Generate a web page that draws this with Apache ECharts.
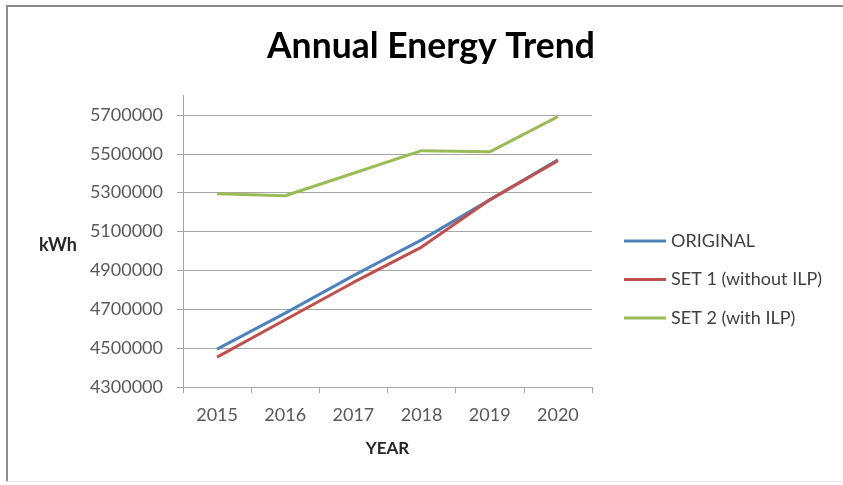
<!DOCTYPE html>
<html>
<head>
<meta charset="utf-8">
<script src="https://cdn.jsdelivr.net/npm/echarts@6/dist/echarts.min.js"></script>
<style>
  html, body { margin: 0; padding: 0; background: #ffffff; overflow: hidden; }
  #chart { width: 843px; height: 485px; }
</style>
</head>
<body>
<div id="chart"></div>
<script>
// Years on the category axis
const years = ['2015', '2016', '2017', '2018', '2019', '2020'];

// Annual energy use, kWh
const original = [4495000, 4680000, 4873000, 5057000, 5263000, 5469000];
const set1 = [4454000, 4646000, 4838000, 5020000, 5263000, 5464000];
const set2 = [5294000, 5284000, 5400000, 5516000, 5510000, 5691000];

// Labelled values on the kWh axis
const yTicks = [4300000, 4500000, 4700000, 4900000, 5100000, 5300000, 5500000, 5700000];

const FONT = 'Lato, "Open Sans", sans-serif';
const AXIS_GREY = '#a6a6a6';
const FRAME_GREY = '#8c8c8c';

const chart = echarts.init(document.getElementById('chart'), null, { renderer: 'canvas' });

chart.setOption({
  animation: false,
  backgroundColor: '#ffffff',
  // page frame: top and left edges, faint bottom edge
  graphic: [
    { type: 'line', silent: true, shape: { x1: 6, y1: 6, x2: 843, y2: 6 }, style: { stroke: FRAME_GREY, lineWidth: 2 } },
    { type: 'line', silent: true, shape: { x1: 7, y1: 5, x2: 7, y2: 481 }, style: { stroke: FRAME_GREY, lineWidth: 2 } },
    { type: 'line', silent: true, shape: { x1: 6, y1: 481.5, x2: 843, y2: 481.5 }, style: { stroke: '#e6e6e6', lineWidth: 1 } }
  ],
  title: {
    text: 'Annual Energy Trend',
    left: 267,
    top: 29,
    padding: 0,
    textStyle: { fontFamily: FONT, fontWeight: 'bold', fontSize: 35.5, color: '#000000' }
  },
  legend: {
    orient: 'vertical',
    left: 624,
    top: 231,
    padding: 0,
    icon: 'rect',
    itemWidth: 42,
    itemHeight: 3,
    itemGap: 18.5,
    textStyle: { fontFamily: FONT, fontSize: 18, color: '#404040', lineHeight: 20 },
    data: ['ORIGINAL', 'SET 1 (without ILP)', 'SET 2 (with ILP)']
  },
  grid: { left: 183, right: 251, top: 95.5, bottom: 98 },
  xAxis: {
    type: 'category',
    data: years,
    boundaryGap: true,
    name: 'YEAR',
    nameLocation: 'middle',
    nameGap: 53,
    nameTextStyle: { fontFamily: FONT, fontWeight: 'bold', fontSize: 17, color: '#262626' },
    axisLine: { lineStyle: { color: AXIS_GREY, width: 1 } },
    axisTick: { show: true, length: 6, interval: 0, lineStyle: { color: AXIS_GREY } },
    axisLabel: { margin: 19, fontFamily: FONT, fontSize: 18, color: '#595959', interval: 0 },
    splitLine: { show: false }
  },
  yAxis: {
    type: 'value',
    min: 4300000,
    max: 5800000,
    name: 'kWh',
    nameLocation: 'middle',
    nameRotate: 0,
    nameGap: 106,
    nameTextStyle: {
      fontFamily: FONT, fontWeight: 'bold', fontSize: 18, color: '#262626',
      verticalAlign: 'top', lineHeight: 8
    },
    axisLine: { show: true, lineStyle: { color: AXIS_GREY, width: 1 } },
    axisTick: { show: true, length: 6, customValues: yTicks, lineStyle: { color: AXIS_GREY } },
    axisLabel: {
      customValues: yTicks,
      margin: 20,
      fontFamily: FONT,
      fontSize: 18,
      color: '#595959',
      formatter: (v) => String(v)
    },
    splitLine: { show: true, lineStyle: { color: AXIS_GREY, width: 1 } }
  },
  series: [
    {
      name: 'ORIGINAL', type: 'line', data: original, symbol: 'none',
      lineStyle: { color: '#4f81bd', width: 3 }, itemStyle: { color: '#4f81bd' }
    },
    {
      name: 'SET 1 (without ILP)', type: 'line', data: set1, symbol: 'none',
      lineStyle: { color: '#c0504d', width: 3 }, itemStyle: { color: '#c0504d' }
    },
    {
      name: 'SET 2 (with ILP)', type: 'line', data: set2, symbol: 'none',
      lineStyle: { color: '#9bbb59', width: 3 }, itemStyle: { color: '#9bbb59' }
    }
  ]
});
</script>
</body>
</html>
